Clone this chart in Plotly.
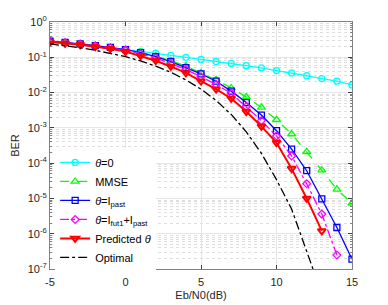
import plotly.graph_objects as go

snr = [-5, -4, -3, -2, -1, 0, 1, 2, 3, 4, 5, 6, 7, 8, 9, 10, 11, 12, 13, 14, 15]

ber_theta0 = [0.28, 0.26, 0.24, 0.215, 0.19, 0.168, 0.147, 0.13, 0.113, 0.1, 0.087,
              0.076, 0.067, 0.058, 0.050, 0.042, 0.036, 0.030, 0.025, 0.021, 0.0165]
ber_mmse = [0.28, 0.26, 0.24, 0.215, 0.19, 0.165, 0.137, 0.108, 0.08, 0.056, 0.036,
            0.023, 0.0135, 0.0075, 0.0038, 0.0017, 6.7e-4, 2.1e-4, 6.3e-5, 1.8e-5, 7.3e-6]
ber_past = [0.285, 0.265, 0.24, 0.215, 0.19, 0.165, 0.135, 0.105, 0.075, 0.051, 0.034,
            0.021, 0.011, 0.0052, 0.0023, 8.3e-4, 2.5e-4, 6.1e-5, 9.7e-6, 1.5e-6, 1.9e-7]
snr_fut = [-5, -4, -3, -2, -1, 0, 1, 2, 3, 4, 5, 6, 7, 8, 9, 10, 11, 12, 13, 14]
ber_fut = [0.28, 0.26, 0.235, 0.21, 0.185, 0.16, 0.125, 0.095, 0.066, 0.045, 0.028,
           0.017, 0.0095, 0.0040, 0.0016, 5.9e-4, 1.6e-4, 2.6e-5, 3.6e-6, 2.5e-7]
snr_pred = [-5, -4, -3, -2, -1, 0, 1, 2, 3, 4, 5, 6, 7, 8, 9, 10, 11, 12, 13]
ber_pred = [0.27, 0.25, 0.225, 0.2, 0.175, 0.145, 0.11, 0.08, 0.055, 0.036, 0.021,
            0.0125, 0.0068, 0.0029, 0.0011, 3.8e-4, 7.0e-5, 1.0e-5, 1.2e-6]
snr_opt = [-5, -4, -3, -2, -1, 0, 1, 2, 3, 4, 5, 6, 7, 8, 9, 10, 11, 12, 13]
ber_opt = [0.239, 0.213, 0.186, 0.158, 0.131, 0.104, 0.0786, 0.0563, 0.0375, 0.0229,
           0.0125, 0.006, 0.0024, 7.7e-4, 1.9e-4, 3.4e-5, 5.0e-6, 3.5e-7, 2.0e-8]

y_tickvals = [1e-7, 1e-6, 1e-5, 1e-4, 1e-3, 1e-2, 1e-1, 1]
y_ticktext = ["10<sup>-7</sup>", "10<sup>-6</sup>", "10<sup>-5</sup>", "10<sup>-4</sup>",
              "10<sup>-3</sup>", "10<sup>-2</sup>", "10<sup>-1</sup>", "10<sup>0</sup>"]
x_tickvals = [-5, 0, 5, 10, 15]
x_ticktext = ["-5", "0", "5", "10", "15"]

FONT = "Liberation Sans, Arial, sans-serif"

fig = go.Figure()
fig.add_trace(go.Scatter(x=snr, y=ber_theta0, name="<i>θ</i>=0", mode="lines+markers",
                         line=dict(color="#00FFFF", width=1.3),
                         marker=dict(symbol="circle-open", size=6, color="#00FFFF", line=dict(width=1.3))))
fig.add_trace(go.Scatter(x=snr, y=ber_mmse, name="MMSE", mode="lines+markers",
                         line=dict(color="#00FF00", width=1.3, dash="dash"),
                         marker=dict(symbol="triangle-up-open", size=7, color="#00FF00", line=dict(width=1.3))))
fig.add_trace(go.Scatter(x=snr, y=ber_past, name="<i>θ</i>=I<sub>past</sub>", mode="lines+markers",
                         line=dict(color="#0000FF", width=1.3),
                         marker=dict(symbol="square-open", size=6, color="#0000FF", line=dict(width=1.3))))
fig.add_trace(go.Scatter(x=snr_fut, y=ber_fut, name="<i>θ</i>=I<sub>fut1</sub>+I<sub>past</sub>", mode="lines+markers",
                         line=dict(color="#FF00FF", width=1.3, dash="dashdot"),
                         marker=dict(symbol="diamond-open", size=6, color="#FF00FF", line=dict(width=1.3))))
fig.add_trace(go.Scatter(x=snr_pred, y=ber_pred, name="Predicted <i>θ</i>", mode="lines+markers",
                         line=dict(color="#FF0000", width=2),
                         marker=dict(symbol="triangle-down-open", size=7, color="#FF0000", line=dict(width=2))))
fig.add_trace(go.Scatter(x=snr_opt, y=ber_opt, name="Optimal", mode="lines",
                         line=dict(color="#000000", width=1.3, dash="dashdot")))

axis_common = dict(showline=True, linecolor="#808080", linewidth=1, mirror="ticks",
                   ticks="inside", ticklen=4, tickcolor="#404040", automargin=False,
                   showgrid=True, gridcolor="#E6E6E6", gridwidth=1, zeroline=False,
                   tickfont=dict(family=FONT, size=11, color="#262626"))

fig.update_xaxes(range=[-5, 15], tickvals=x_tickvals, ticktext=x_ticktext, ticklabelstandoff=3,
                 **axis_common,
                 title=dict(text="Eb/N0(dB)", standoff=4,
                            font=dict(family=FONT, size=11, color="#262626")))
fig.update_yaxes(type="log", range=[-7, 0], tickvals=y_tickvals, ticktext=y_ticktext, **axis_common,
                 minor=dict(dtick="D1", showgrid=True, gridcolor="#DEDEDE", griddash="dot", gridwidth=1,
                            ticks="inside", ticklen=2, tickcolor="#808080"),
                 title=dict(text="BER", standoff=5,
                            font=dict(family=FONT, size=11, color="#262626")))

# page has an 8px body margin; compensate so the plot area sits at x 50-352, y 22-269
fig.update_layout(width=380, height=297, margin=dict(l=42, r=36, t=14, b=36),
                  paper_bgcolor="white", plot_bgcolor="white",
                  font=dict(family=FONT, size=11, color="#000000"),
                  legend=dict(x=0.017, y=0.49, xanchor="left", yanchor="top",
                              bgcolor="white", borderwidth=0, tracegroupgap=0,
                              font=dict(size=11, family=FONT, color="#000000")))

fig.write_html("out.html")
